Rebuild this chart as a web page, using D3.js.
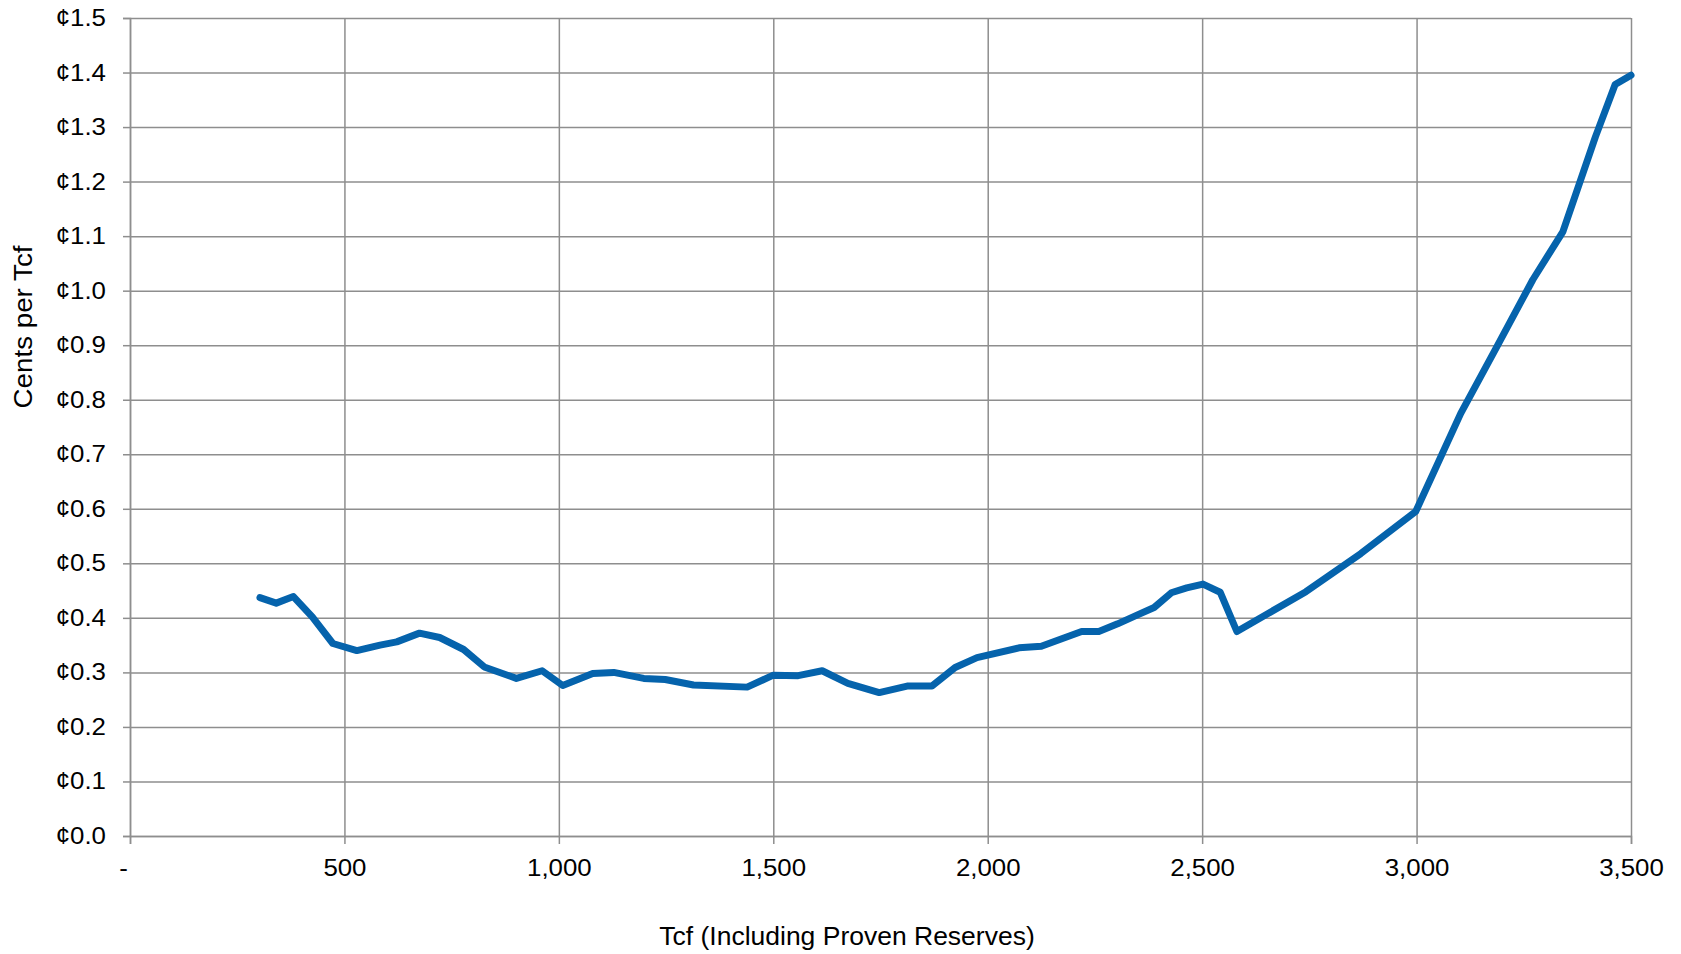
<!DOCTYPE html>
<html>
<head>
<meta charset="utf-8">
<script src="https://cdn.jsdelivr.net/npm/d3@7"></script>
<style>
  html, body { margin: 0; padding: 0; background: #fff; }
  svg { display: block; font-family: "Liberation Sans", Arial, sans-serif; }
</style>
</head>
<body>
<svg id="chart" width="1681" height="954"></svg>
<script>
// ---- data ----
const tcf = [303, 341, 381, 425, 473, 529, 583, 622, 675, 722, 778, 826, 901, 961, 1009, 1079, 1128, 1198, 1248, 1314, 1439, 1500, 1558, 1614, 1674, 1747, 1812, 1870, 1924, 1975, 2073, 2125, 2219, 2259, 2303, 2348, 2388, 2428, 2464, 2502, 2542, 2581, 2742, 2870, 2998, 3103, 3187, 3271, 3341, 3417, 3463, 3500];
const cents = [0.437, 0.427, 0.439, 0.402, 0.353, 0.340, 0.350, 0.356, 0.372, 0.364, 0.342, 0.310, 0.289, 0.303, 0.276, 0.298, 0.300, 0.289, 0.287, 0.277, 0.273, 0.295, 0.294, 0.303, 0.280, 0.263, 0.275, 0.275, 0.309, 0.327, 0.345, 0.348, 0.375, 0.375, 0.389, 0.405, 0.419, 0.446, 0.455, 0.462, 0.447, 0.375, 0.448, 0.518, 0.595, 0.775, 0.897, 1.020, 1.108, 1.282, 1.378, 1.395];
const xTicks = [0, 500, 1000, 1500, 2000, 2500, 3000, 3500];
const yTicks = [0, 0.1, 0.2, 0.3, 0.4, 0.5, 0.6, 0.7, 0.8, 0.9, 1.0, 1.1, 1.2, 1.3, 1.4, 1.5];
const xTitle = "Tcf (Including Proven Reserves)";
const yTitle = "Cents per Tcf";

// ---- layout ----
const L = 130, R = 1631, T = 18, B = 836;
const svg = d3.select("#chart");
const x = d3.scaleLinear().domain([0, 3500]).range([L, R]);
const y = d3.scaleLinear().domain([0, 1.5]).range([B, T]);
const gridColor = "#8e8e8e";
const labelSize = 23.5, labelStretch = 1.1;

// grid lines
svg.append("g").attr("transform", `translate(${L},0)`)
  .call(d3.axisLeft(y).tickValues(yTicks).tickSize(-(R - L)).tickFormat(""))
  .call(g => g.select(".domain").remove())
  .call(g => g.selectAll("line").attr("stroke", gridColor).attr("stroke-width", 1.5));
svg.append("g").attr("transform", `translate(0,${T})`)
  .call(d3.axisTop(x).tickValues(xTicks).tickSize(-(B - T)).tickFormat(""))
  .call(g => g.select(".domain").remove())
  .call(g => g.selectAll("line").attr("stroke", gridColor).attr("stroke-width", 1.5));

// y axis labels
const yAx = svg.append("g").attr("transform", `translate(${L},0)`)
  .call(d3.axisLeft(y).tickValues(yTicks).tickSize(7).tickPadding(17)
    .tickFormat(d => "\u00a2" + d.toFixed(1)));
yAx.select(".domain").attr("stroke", gridColor).attr("stroke-width", 1.5);
yAx.selectAll("line").attr("stroke", gridColor).attr("stroke-width", 1.5);
yAx.selectAll("text")
  .attr("font-size", labelSize).attr("fill", "#000")
  .attr("font-family", "'Liberation Sans', Arial, sans-serif")
  .each(function() {
    const t = d3.select(this);
    const xx = +t.attr("x");
    t.attr("x", 0).attr("transform", `translate(${xx},0) scale(${labelStretch},1)`);
  });

// x axis labels
const xAx = svg.append("g").attr("transform", `translate(0,${B})`)
  .call(d3.axisBottom(x).tickValues(xTicks).tickSize(8).tickPadding(15)
    .tickFormat(d => d === 0 ? "-" : d3.format(",")(d)));
xAx.select(".domain").attr("stroke", gridColor).attr("stroke-width", 1.5);
xAx.selectAll("line").attr("stroke", gridColor).attr("stroke-width", 1.5);
xAx.selectAll("text")
  .attr("font-size", labelSize).attr("fill", "#000")
  .attr("font-family", "'Liberation Sans', Arial, sans-serif")
  .each(function(d) {
    const t = d3.select(this);
    const yy = +t.attr("y");
    t.attr("y", 0).attr("transform", `translate(${d === 0 ? -7 : 0},${yy}) scale(${labelStretch},1)`);
  });

// line
const data = tcf.map((v, i) => ({ x: v, y: cents[i] }));
svg.append("path")
  .datum(data)
  .attr("fill", "none")
  .attr("stroke", "#0563ac")
  .attr("stroke-width", 7)
  .attr("stroke-linejoin", "round")
  .attr("stroke-linecap", "round")
  .attr("d", d3.line().x(d => x(d.x)).y(d => y(d.y)));

// titles
svg.append("text")
  .attr("transform", "translate(847,945) scale(1.06,1)")
  .attr("text-anchor", "middle")
  .attr("font-size", 25)
  .attr("fill", "#000")
  .text(xTitle);

svg.append("text")
  .attr("transform", "translate(23,327) rotate(-90) scale(1.11,1)")
  .attr("text-anchor", "middle")
  .attr("dy", "0.35em")
  .attr("font-size", 25)
  .attr("fill", "#000")
  .text(yTitle);
</script>
</body>
</html>
